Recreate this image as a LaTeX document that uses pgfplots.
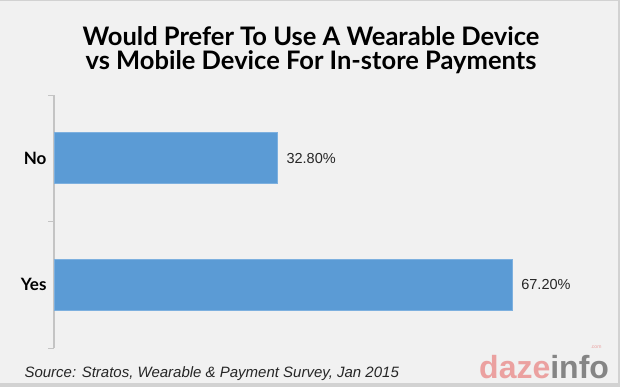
\documentclass[border=0pt]{standalone}
\usepackage{pgfplots}
\pgfplotsset{compat=1.18}
\usepackage{fontspec}
\setmainfont{Liberation Sans}
\newfontfamily\titlefont{Lato}
\definecolor{bg}{HTML}{F1F1F1}
\definecolor{edge}{HTML}{D2D2D2}
\definecolor{barblue}{HTML}{5B9BD5}
\definecolor{baredge}{HTML}{7DB0DF}
\definecolor{axgray}{HTML}{C4C4C4}
\definecolor{logopink}{HTML}{EBA1A0}
\definecolor{logogray}{HTML}{858585}
\begin{document}
\begin{tikzpicture}[x=1bp,y=1bp]
\useasboundingbox (0,0) rectangle (620,-387);
\fill[bg] (0,0) rectangle (620,-387);
\draw[edge,line width=1.5bp] (0,-0.5) -- (619.2,-0.5) -- (619.2,-386.2) -- (0,-386.2);
\fill[edge] (0,-383) rectangle (620,-387);
\node[align=center,font=\titlefont\bfseries\fontsize{25.5bp}{25bp}\selectfont] at (311,-50)
  {Would Prefer To Use A Wearable Device\\[-1bp]vs Mobile Device For In-store Payments};
\begin{axis}[
  at={(54bp,-348bp)}, anchor=south west,
  scale only axis, width=546bp, height=253bp,
  xmin=0, xmax=80, ymin=-0.5, ymax=1.5, y dir=reverse,
  axis x line=none, axis y line=left,
  y axis line style={-, color=axgray, line width=1.4bp},
  ytick={0,1}, yticklabels={No,Yes},
  major tick length=0pt,
  minor ytick={-0.5,0.5,1.5}, minor tick length=6bp, tick align=outside,
  minor tick style={axgray, line width=1bp},
  yticklabel style={font=\titlefont\bfseries\fontsize{17bp}{18bp}\selectfont, xshift=-4bp},
  xbar, bar width=51bp,
  /pgf/number format/assume math mode=true,
  nodes near coords={\pgfmathprintnumber[fixed,fixed zerofill,precision=2]{\pgfplotspointmeta}\%},
  nodes near coords align={horizontal},
  every node near coord/.append style={font=\fontsize{14.5bp}{16bp}\selectfont, color=black!85, xshift=5bp},
  clip=false,
]
\addplot[fill=barblue, draw=baredge, line width=0.8bp] coordinates {(32.8,0) (67.2,1)};
\end{axis}
\node[anchor=base west,font=\itshape\fontsize{15bp}{17bp}\selectfont,color=black!85] at (21,-377) {Source: Stratos, Wearable \& Payment Survey, Jan 2015};
\node[anchor=base west,font=\bfseries\fontsize{32bp}{32bp}\selectfont,inner sep=0] at (479,-378)
  {\textcolor{logopink}{daz}\textcolor{logopink}{e}\textcolor{logogray}{info}};
\node[font=\fontsize{5bp}{5bp}\selectfont,color=logopink] at (596,-347) {.com};
\end{tikzpicture}
\end{document}
